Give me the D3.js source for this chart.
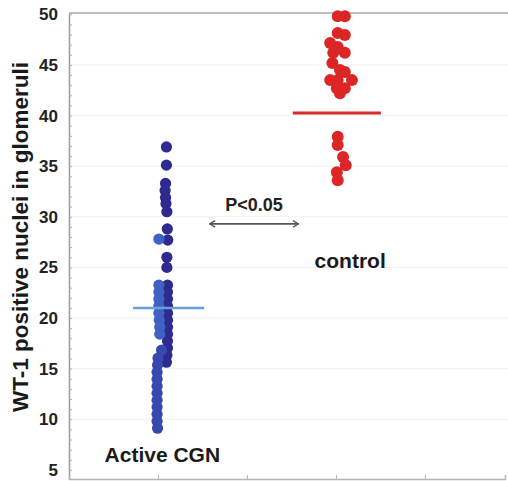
<!DOCTYPE html>
<html>
<head>
<meta charset="utf-8">
<script src="https://cdn.jsdelivr.net/npm/d3@7/dist/d3.min.js"></script>
<style>
  html, body { margin: 0; padding: 0; background: #fff; }
  svg { display: block; font-family: "Liberation Sans", Arial, sans-serif; }
</style>
</head>
<body>
<svg id="chart" width="508" height="481"></svg>
<script>
// Groups on the x axis (category positions 1 and 3)
const categories = ["Active CGN", "control"];
const categoryPos = [1, 3];
const yTickValues = [5, 10, 15, 20, 25, 30, 35, 40, 45, 50];
const xTickValues = [1, 2, 3, 4];

// Active CGN: WT-1 positive nuclei per glomerulus, with scatter position
const cgnValues = [
  36.9, 35.1, 33.3, 32.6, 31.9, 31.3, 30.5, 28.8, 27.7, 26.0, 25.0,
  27.8,
  23.25, 22.56, 21.87, 21.18, 20.48, 19.79, 19.10, 18.41, 17.72, 17.03, 16.33, 15.64,
  23.25, 22.56, 21.87, 21.18, 20.48, 19.79, 19.10, 18.41,
  16.83,
  16.04, 15.35, 14.65, 13.96, 13.27, 12.58, 11.89, 11.20, 10.50, 9.81, 9.12
];
const cgnX = [
  1.095, 1.095, 1.085, 1.08, 1.085, 1.09, 1.10, 1.105, 1.11, 1.10, 1.10,
  1.01,
  1.107, 1.107, 1.107, 1.107, 1.107, 1.107, 1.107, 1.107, 1.107, 1.107, 1.10, 1.095,
  1.01, 1.01, 1.01, 1.01, 1.01, 1.015, 1.02, 1.02,
  1.04,
  1.00, 0.995, 0.99, 0.99, 0.99, 0.99, 0.99, 0.99, 0.99, 0.99, 0.995
];
// shade group of each CGN point: 0 dark, 1 light, 2 medium
const cgnShade = [
  0, 0, 0, 0, 0, 0, 0, 0, 0, 0, 0,
  1,
  0, 0, 0, 0, 0, 0, 0, 0, 0, 0, 0, 0,
  1, 1, 1, 1, 1, 1, 1, 1,
  2,
  2, 2, 2, 2, 2, 2, 2, 2, 2, 2, 2
];

// Controls
const controlValues = [
  49.8, 49.8, 48.15, 47.95, 47.16, 46.77, 46.2, 46.2, 45.2, 44.5, 44.3,
  43.5, 43.5, 43.5, 42.7, 42.7, 42.2,
  37.9, 37.1, 35.9, 35.1, 34.4, 33.6
];
const controlX = [
  3.02, 3.10, 3.02, 3.10, 2.935, 3.02, 3.10, 2.97, 2.96, 3.045, 3.10,
  2.935, 3.02, 3.18, 3.01, 3.10, 3.045,
  3.02, 3.02, 3.08, 3.11, 3.01, 3.02
];

// Group means (horizontal bars)
const meanValues = [21.0, 40.25];
const meanCenter = [1.12, 3.01];

// Significance annotation
const pLabel = "P<0.05";
const yLabel = "WT-1 positive nuclei in glomeruli";

const svg = d3.select("#chart");
const W = 508, H = 481;

const x = d3.scaleLinear().domain([0, 4.9]).range([69, 505]);
const y = d3.scaleLinear().domain([4.1, 50.13]).range([479, 13]);

const shadeColor = d3.scaleOrdinal().domain([0, 1, 2]).range(["#2d2b8f", "#3f62c4", "#3848ad"]);

// faint grid
svg.append("g")
  .selectAll("line")
  .data(yTickValues.filter(v => v > 5 && v < 50))
  .join("line")
  .attr("x1", x(0)).attr("x2", W)
  .attr("y1", d => y(d)).attr("y2", d => y(d))
  .attr("stroke", "#f1f1f1").attr("stroke-width", 1);

// top frame line
svg.append("line")
  .attr("x1", x(0)).attr("x2", W)
  .attr("y1", y.range()[1]).attr("y2", y.range()[1])
  .attr("stroke", "#a8a8a8").attr("stroke-width", 1.5);

// y axis: labels
const yAxis = svg.append("g")
  .attr("transform", `translate(${x(0)},0)`)
  .call(d3.axisLeft(y).tickValues(yTickValues).tickSize(0).tickPadding(11).tickFormat(d3.format("d")));
yAxis.select(".domain").attr("stroke", "#9a9a9a").attr("stroke-width", 1.5);
yAxis.selectAll("text")
  .attr("font-size", 17).attr("font-weight", "bold").attr("fill", "#222")
  .attr("font-family", "Liberation Sans, Arial, sans-serif");

// y axis: minor ticks every unit, inward
const yMinor = svg.append("g")
  .attr("transform", `translate(${x(0)},0)`)
  .call(d3.axisRight(y).tickValues(d3.range(5, 51, 1)).tickSize(3).tickFormat(""));
yMinor.select(".domain").remove();
yMinor.selectAll("line").attr("stroke", "#b0b0b0");

// x axis at bottom, ticks pointing up
const xAxis = svg.append("g")
  .attr("transform", `translate(0,${y.range()[0]})`)
  .call(d3.axisTop(x).tickValues(xTickValues).tickSize(4).tickFormat(""));
xAxis.select(".domain").attr("stroke", "#b5b5b5").attr("stroke-width", 1.5);
xAxis.selectAll("line").attr("stroke", "#b5b5b5");

// y axis title
svg.append("text")
  .attr("transform", `translate(28,237) rotate(-90)`)
  .attr("text-anchor", "middle")
  .attr("font-size", 22.5).attr("font-weight", "bold").attr("fill", "#1a1a1a")
  .text(yLabel);

// points: Active CGN
svg.append("g")
  .selectAll("circle")
  .data(cgnValues.map((v, i) => ({ v, xv: cgnX[i], s: cgnShade[i] })))
  .join("circle")
  .attr("cx", d => x(d.xv))
  .attr("cy", d => y(d.v))
  .attr("r", 5.6)
  .attr("fill", d => shadeColor(d.s));

// points: control
svg.append("g")
  .selectAll("circle")
  .data(controlValues.map((v, i) => ({ v, xv: controlX[i] })))
  .join("circle")
  .attr("cx", d => x(d.xv))
  .attr("cy", d => y(d.v))
  .attr("r", 6)
  .attr("fill", "#dc2626");

// mean bars
const meanHalf = [0.4, 0.495];
const meanColor = ["#6a9fd8", "#d42a2a"];
const meanWidth = [2.5, 3];
svg.append("g")
  .selectAll("line")
  .data(meanValues.map((v, i) => ({ v, c: meanCenter[i], i })))
  .join("line")
  .attr("x1", d => x(d.c - meanHalf[d.i]))
  .attr("x2", d => x(d.c + meanHalf[d.i]))
  .attr("y1", d => y(d.v)).attr("y2", d => y(d.v))
  .attr("stroke", d => meanColor[d.i])
  .attr("stroke-width", d => meanWidth[d.i]);

// double-headed arrow between the groups
const arrowY = 29.3;
const arrowFrom = 1.58, arrowTo = 1.58 + 1.0;
const defs = svg.append("defs");
["start", "end"].forEach(k => {
  defs.append("marker")
    .attr("id", "head-" + k)
    .attr("viewBox", "0 0 10 10")
    .attr("refX", k === "end" ? 9 : 1).attr("refY", 5)
    .attr("markerWidth", 8).attr("markerHeight", 8)
    .attr("markerUnits", "userSpaceOnUse")
    .attr("orient", "auto")
    .append("path")
    .attr("d", k === "end" ? "M2,1 L9,5 L2,9" : "M8,1 L1,5 L8,9")
    .attr("fill", "none").attr("stroke", "#555").attr("stroke-width", 1.6);
});
svg.append("line")
  .attr("x1", x(arrowFrom)).attr("x2", x(arrowTo))
  .attr("y1", y(arrowY)).attr("y2", y(arrowY))
  .attr("stroke", "#555").attr("stroke-width", 1.6)
  .attr("marker-start", "url(#head-start)")
  .attr("marker-end", "url(#head-end)");

svg.append("text")
  .attr("x", x((arrowFrom + arrowTo) / 2)).attr("y", y(arrowY) - 12.5)
  .attr("text-anchor", "middle")
  .attr("font-size", 18).attr("font-weight", "bold").attr("fill", "#222")
  .text(pLabel);

// group labels
svg.append("text")
  .attr("x", x(categoryPos[0] - 0.6)).attr("y", 462)
  .attr("font-size", 21).attr("font-weight", "bold").attr("fill", "#1a1a1a")
  .text(categories[0]);
svg.append("text")
  .attr("x", x(categoryPos[1] - 0.24)).attr("y", 268)
  .attr("font-size", 21).attr("font-weight", "bold").attr("fill", "#1a1a1a")
  .text(categories[1]);
</script>
</body>
</html>
